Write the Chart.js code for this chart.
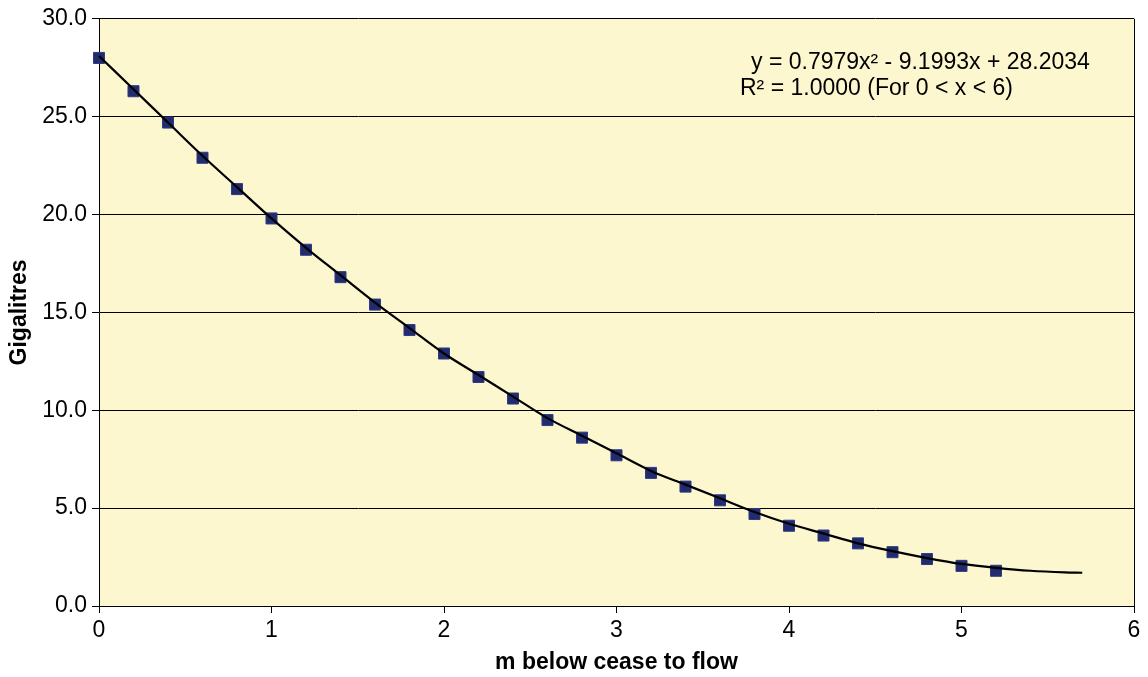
<!DOCTYPE html>
<html>
<head>
<meta charset="utf-8">
<script src="https://cdn.jsdelivr.net/npm/chart.js@4.4.1/dist/chart.umd.min.js"></script>
<style>
  html, body { margin: 0; padding: 0; background: #ffffff; }
  #wrap { width: 1148px; height: 677px; }
</style>
</head>
<body>
<div id="wrap"><canvas id="storageChart"></canvas></div>
<script>
// depth below cease-to-flow level (m) and storage volume (GL)
const depths = [0, 0.2, 0.4, 0.6, 0.8, 1.0, 1.2, 1.4, 1.6, 1.8, 2.0, 2.2, 2.4, 2.6,
                2.8, 3.0, 3.2, 3.4, 3.6, 3.8, 4.0, 4.2, 4.4, 4.6, 4.8, 5.0, 5.2];
const volumes = [28.0, 26.3, 24.7, 22.9, 21.3, 19.8, 18.2, 16.8, 15.4, 14.1, 12.9, 11.7, 10.6, 9.5,
                 8.6, 7.7, 6.8, 6.1, 5.4, 4.7, 4.1, 3.6, 3.2, 2.75, 2.4, 2.05, 1.8];

// fitted trend curve
const fitDepths = [0, 0.2, 0.4, 0.6, 0.8, 1.0, 1.2, 1.4, 1.6, 1.8, 2.0, 2.2, 2.4, 2.6, 2.8,
                   3.0, 3.2, 3.4, 3.6, 3.8, 4.0, 4.2, 4.4, 4.6, 4.8, 5.0, 5.2, 5.4, 5.6, 5.7];
const fitVolumes = [28.1, 26.4, 24.7, 23.0, 21.4, 19.8, 18.3, 16.9, 15.5, 14.2, 12.9, 11.8, 10.7, 9.6, 8.7,
                    7.8, 6.9, 6.2, 5.5, 4.8, 4.2, 3.7, 3.2, 2.8, 2.45, 2.15, 1.95, 1.8, 1.72, 1.7];

const xTicks = [0, 1, 2, 3, 4, 5, 6];
const yTicks = [0, 5, 10, 15, 20, 25, 30];

const fitLines = [
  { text: 'y = 0.7979x\u00B2 - 9.1993x + 28.2034', dx: -383, y: 69 },
  { text: 'R\u00B2 = 1.0000 (For 0 < x < 6)', dx: -394, y: 95 }
];

const FONT = "'Liberation Sans', Arial, sans-serif";
const FONT_SIZE = 23;

// pale yellow plot area with a black frame
const plotBackground = {
  id: 'plotBackground',
  beforeDraw(chart) {
    const { ctx, chartArea: a } = chart;
    ctx.save();
    ctx.fillStyle = '#fdf7d0';
    ctx.fillRect(a.left, a.top, a.right - a.left, a.bottom - a.top);
    ctx.restore();
  },
  afterDraw(chart) {
    const { ctx, chartArea: a } = chart;
    ctx.save();
    ctx.strokeStyle = '#000';
    ctx.lineWidth = 1;
    ctx.beginPath();
    ctx.moveTo(a.right + 0.5, a.top);
    ctx.lineTo(a.right + 0.5, a.bottom);
    ctx.stroke();
    // regression equation
    ctx.fillStyle = '#000';
    ctx.font = FONT_SIZE + 'px ' + FONT;
    ctx.textAlign = 'left';
    ctx.textBaseline = 'alphabetic';
    fitLines.forEach(l => ctx.fillText(l.text, a.right + l.dx, l.y));
    ctx.restore();
  }
};

const ctx = document.getElementById('storageChart').getContext('2d');

new Chart(ctx, {
  type: 'scatter',
  data: {
    datasets: [
      {
        label: 'Fit',
        type: 'line',
        data: fitDepths.map((d, i) => ({ x: d, y: fitVolumes[i] })),
        borderColor: '#000',
        borderWidth: 2.2,
        pointRadius: 0,
        cubicInterpolationMode: 'monotone',
        fill: false,
        clip: false
      },
      {
        label: 'Storage',
        data: depths.map((d, i) => ({ x: d, y: volumes[i] })),
        pointStyle: 'rect',
        pointRadius: 7.8,
        pointHoverRadius: 7.8,
        backgroundColor: '#222b6d',
        borderColor: '#2e3a82',
        borderWidth: 1,
        showLine: false,
        clip: false
      }
    ]
  },
  options: {
    responsive: true,
    maintainAspectRatio: false,
    animation: false,
    layout: { padding: { top: 17, right: 14, bottom: 0, left: 0 } },
    plugins: {
      legend: { display: false },
      tooltip: { enabled: false }
    },
    scales: {
      x: {
        type: 'linear',
        min: 0,
        max: 6,
        afterFit: s => { s.height = 71; },
        afterBuildTicks: s => { s.ticks = xTicks.map(v => ({ value: v })); },
        grid: { drawOnChartArea: false, drawTicks: true, tickLength: 7, color: '#000' },
        border: { color: '#000', width: 1 },
        ticks: { color: '#000', padding: 4, font: { family: FONT, size: FONT_SIZE } },
        title: {
          display: true,
          text: 'm below cease to flow',
          color: '#000',
          padding: { top: 0, bottom: 1 },
          font: { family: FONT, size: FONT_SIZE, weight: 'bold' }
        }
      },
      y: {
        min: 0,
        max: 30,
        afterFit: s => { s.width = 99; },
        afterBuildTicks: s => { s.ticks = yTicks.map(v => ({ value: v })); },
        grid: { color: '#000', lineWidth: 1, drawTicks: true, tickLength: 7 },
        border: { color: '#000', width: 1 },
        ticks: {
          color: '#000',
          padding: 5,
          font: { family: FONT, size: FONT_SIZE },
          callback: v => v.toFixed(1)
        },
        title: {
          display: true,
          text: 'Gigalitres',
          color: '#000',
          padding: { top: 6, bottom: 0 },
          font: { family: FONT, size: FONT_SIZE, weight: 'bold' }
        }
      }
    }
  },
  plugins: [plotBackground]
});
</script>
</body>
</html>
